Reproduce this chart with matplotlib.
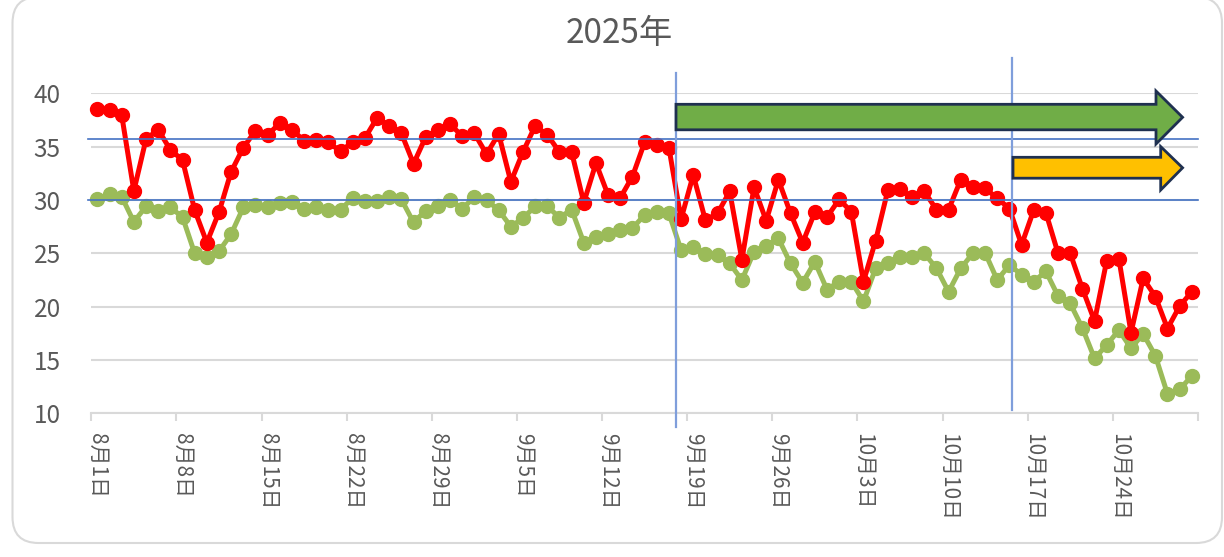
import matplotlib
matplotlib.use("Agg")
import matplotlib.pyplot as plt
from matplotlib.patches import Polygon, FancyBboxPatch
from matplotlib.lines import Line2D
from matplotlib.transforms import IdentityTransform
import numpy as np

plt.rcParams['font.family'] = ['Noto Sans CJK JP', 'DejaVu Sans']

# ---- data (daily values, Aug 1 .. Oct 30, 2025) ----
max_temp = [38.5, 38.4, 37.95, 30.85, 35.7, 36.6, 34.7, 33.75, 29.05, 26.0,
            28.85, 32.65, 34.9, 36.5, 36.1, 37.2, 36.6, 35.55, 35.6, 35.4,
            34.55, 35.45, 35.8, 37.7, 36.95, 36.25, 33.4, 35.9, 36.6, 37.1,
            36.0, 36.25, 34.3, 36.2, 31.7, 34.5, 36.95, 36.1, 34.5, 34.5,
            29.75, 33.45, 30.45, 30.2, 32.2, 35.4, 35.15, 34.9, 28.2, 32.35,
            28.1, 28.75, 30.8, 24.4, 31.2, 28.05, 31.9, 28.75, 26.0, 28.85,
            28.4, 30.05, 28.9, 22.35, 26.2, 30.9, 31.0, 30.25, 30.8, 29.1,
            29.1, 31.9, 31.25, 31.1, 30.15, 29.2, 25.8, 29.05, 28.8, 25.0,
            25.0, 21.7, 18.65, 24.3, 24.5, 17.55, 22.65, 20.95, 17.95, 20.05,
            21.4]
min_temp = [30.05, 30.6, 30.3, 27.95, 29.4, 29.0, 29.3, 28.4, 25.0, 24.7,
            25.2, 26.8, 29.3, 29.5, 29.3, 29.75, 29.85, 29.2, 29.3, 29.05,
            29.1, 30.2, 29.9, 29.9, 30.25, 30.05, 27.9, 29.0, 29.4, 30.0,
            29.2, 30.25, 30.0, 29.05, 27.5, 28.3, 29.4, 29.4, 28.35, 29.1,
            26.0, 26.55, 26.85, 27.15, 27.35, 28.6, 28.85, 28.75, 25.3, 25.6,
            24.9, 24.8, 24.05, 22.5, 25.15, 25.7, 26.4, 24.05, 22.25, 24.2,
            21.6, 22.35, 22.35, 20.5, 23.6, 24.1, 24.7, 24.7, 25.0, 23.6,
            21.4, 23.6, 25.0, 25.05, 22.5, 23.9, 23.0, 22.35, 23.3, 21.0,
            20.3, 18.0, 15.15, 16.4, 17.8, 16.1, 17.45, 15.4, 11.8, 12.25,
            13.5]
tick_labels = ["8月1日", "8月8日", "8月15日", "8月22日", "8月29日", "9月5日",
               "9月12日", "9月19日", "9月26日", "10月3日", "10月10日",
               "10月17日", "10月24日"]
ref_levels = [35.7, 30.0]
title = "2025年"

W, H = 1224, 557
fig = plt.figure(figsize=(W / 100, H / 100), dpi=100)

# rounded chart border
border = FancyBboxPatch((12.5, H - 543), 1222 - 12.5, 543 + 3,
                        boxstyle="round,pad=0,rounding_size=26",
                        transform=IdentityTransform(), facecolor='white',
                        edgecolor='#d9d9d9', linewidth=1.5, zorder=0)
fig.add_artist(border)

x0, x1 = 91.3, 1197.9
ytop, ybot = 93.3, 413.3
ax = fig.add_axes([x0 / W, 1 - ybot / H, (x1 - x0) / W, (ybot - ytop) / H])
ax.set_facecolor('none')

n = len(max_temp)
x = np.arange(n)
ax.set_xlim(-0.5, n - 0.5)
ax.set_ylim(10, 40)

ax.plot(x, min_temp, color='#9BBB59', lw=3.6, marker='o', ms=10,
        solid_joinstyle='round', zorder=3, clip_on=False)
ax.plot(x, max_temp, color='#FF0000', lw=3.6, marker='o', ms=10,
        solid_joinstyle='round', zorder=4, clip_on=False)

# grid & axes styling
ax.set_yticks([10, 15, 20, 25, 30, 35, 40])
ax.grid(axis='y', color='#d9d9d9', lw=1.5, zorder=0)
ax.set_axisbelow(True)
for s in ['top', 'right', 'left']:
    ax.spines[s].set_visible(False)
ax.spines['bottom'].set_color('#d9d9d9')
ax.spines['bottom'].set_linewidth(1.5)
ax.tick_params(axis='y', length=0, pad=22, labelsize=17.5, labelcolor='#595959')

label_pos = [7 * k for k in range(len(tick_labels))]
ax.set_xticks(label_pos)
ax.set_xticklabels(tick_labels, rotation=-90)
ax.tick_params(axis='x', which='major', length=0, pad=14, labelsize=15,
               labelcolor='#595959')
ax.set_xticks([p - 0.5 for p in label_pos] + [n - 0.5], minor=True)
ax.tick_params(axis='x', which='minor', length=6, width=1.5, color='#d9d9d9',
               direction='out')

# reference lines (horizontal)
for lv in ref_levels:
    ax.plot([-0.8, n - 0.5], [lv, lv], color='#4472C4', lw=1.2,
            zorder=6, clip_on=False)


def fp(px, py):
    return (px / W, 1 - py / H)


# vertical marker lines
for xp, ya, yb in [(676, 73, 427), (1012, 57.7, 410)]:
    (fx, fya), (_, fyb) = fp(xp, ya), fp(xp, yb)
    fig.add_artist(Line2D([fx, fx], [fya, fyb], color='#7f9edb', lw=1.6,
                          zorder=7))

# arrows
green_arrow = [(676, 104.3), (1156, 104.3), (1156, 91), (1182.6, 117.3),
               (1156, 144), (1156, 129.8), (676, 129.8)]
orange_arrow = [(1013, 157.3), (1160.7, 157.3), (1160.7, 146.6),
                (1182.6, 167.8), (1160.7, 190), (1160.7, 178.2),
                (1013, 178.2)]
for pts, col in [(green_arrow, '#70AD47'), (orange_arrow, '#FFC000')]:
    poly = Polygon([fp(a, b) for a, b in pts], closed=True, facecolor=col,
                   edgecolor='#1f3050', lw=2, transform=fig.transFigure,
                   zorder=8, joinstyle='miter')
    fig.add_artist(poly)

fig.text(619 / W, 1 - 34 / H, title, ha='center', va='center',
         fontsize=24, color='#595959')

fig.savefig('out.png', dpi=100, facecolor='white')
